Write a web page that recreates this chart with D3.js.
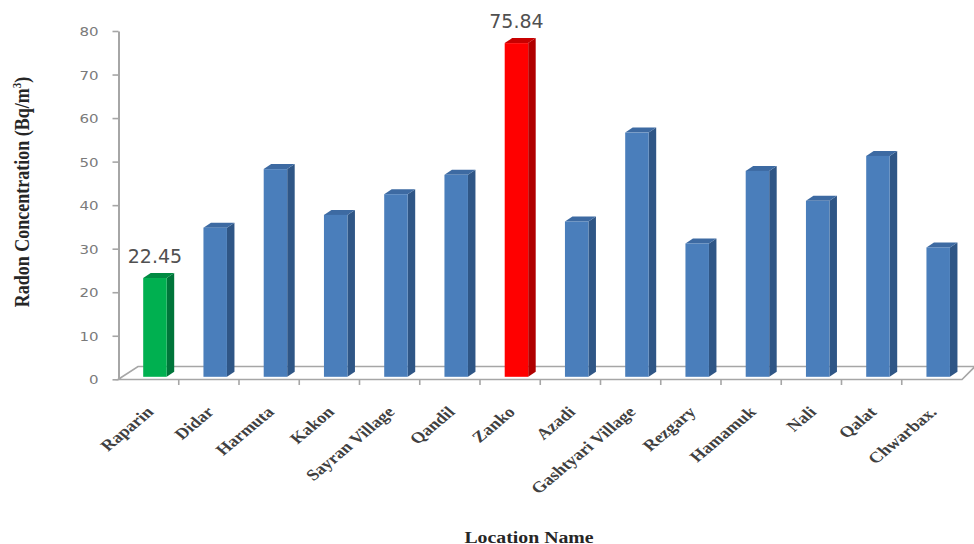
<!DOCTYPE html>
<html><head><meta charset="utf-8">
<script src="https://cdn.jsdelivr.net/npm/d3@7"></script>
<style>body{margin:0;background:#fff;}svg{display:block;}</style>
</head><body>
<svg id="c" width="974" height="544"></svg>
<script>
const categories = ["Raparin","Didar","Harmuta","Kakon","Sayran Village","Qandil","Zanko","Azadi","Gashtyari Village","Rezgary","Hamamuk","Nali","Qalat","Chwarbax."];
const values = [22.45,33.9,47.2,36.8,41.5,45.9,75.84,35.3,55.5,30.3,46.8,40.0,50.2,29.4];
const barColors = ["green","blue","blue","blue","blue","blue","red","blue","blue","blue","blue","blue","blue","blue"];
const valueLabels = ["22.45","","","","","","75.84","","","","","","",""];
const yTicks = [0,10,20,30,40,50,60,70,80];
const yTitle = "Radon Concentration (Bq/m";
const xTitle = "Location Name";

const palette = {
  blue:{front:"#4a7ebb",side:"#2f5686",top:"#3d6aa2"},
  green:{front:"#00b050",side:"#00753a",top:"#008a42"},
  red:{front:"#ff0000",side:"#b00000",top:"#c80000"}
};
const SX = 1.2; // horizontal stretch of the original picture
const svg = d3.select("#c");
const x = d3.scaleBand().domain(categories).range([118.5,962]);
const bw = x.bandwidth();
const yAxisScale = d3.scaleLinear().domain([0,80]).range([379.3,31]);
const yBar = d3.scaleLinear().domain([0,80]).range([376.8,24.8]);
const dx = 7.5, dy = -5;
const gray = "#a6a6a6";

// floor
const fl = [[118,379.5],[138,366.5],[975,366.5],[962,379.5]];
svg.append("path").attr("d","M"+fl.map(p=>p.join(",")).join("L")+"Z")
  .attr("fill","#fff").attr("stroke",gray).attr("stroke-width",1.6);

// y axis
const ya = svg.append("g").attr("transform","translate(118.5,0)")
  .call(d3.axisLeft(yAxisScale).tickValues(yTicks).tickSize(6).tickSizeOuter(0));
ya.select(".domain").attr("stroke",gray).attr("stroke-width",2);
ya.selectAll(".tick line").attr("stroke",gray).attr("stroke-width",1.6);
ya.selectAll(".tick text").attr("x",null).attr("dy",null)
  .attr("transform",`translate(-20,0) scale(${SX},1)`).attr("dy","0.36em")
  .attr("fill","#7a7a7a").style("font-family","DejaVu Sans, Verdana, sans-serif")
  .style("font-size","12.5px");

// category ticks
svg.append("g").selectAll("line").data(categories.slice(0,-1)).join("line")
  .attr("x1",d=>x(d)+bw).attr("x2",d=>x(d)+bw).attr("y1",379.5).attr("y2",385)
  .attr("stroke",gray).attr("stroke-width",1.6);

// bars
const data = categories.map((c,i)=>({c,v:values[i],col:palette[barColors[i]],lab:valueLabels[i]}));
const g = svg.append("g");
data.forEach(d=>{
  const x0 = x(d.c)+bw*0.41, w = bw*0.39;
  const yt = yBar(d.v), yb = yBar(0);
  const gg = g.append("g");
  gg.append("path").attr("d",`M${x0+w},${yt}L${x0+w+dx},${yt+dy}L${x0+w+dx},${yb+dy}L${x0+w},${yb}Z`).attr("fill",d.col.side);
  gg.append("path").attr("d",`M${x0},${yt}L${x0+dx},${yt+dy}L${x0+w+dx},${yt+dy}L${x0+w},${yt}Z`).attr("fill",d.col.top);
  gg.append("rect").attr("x",x0).attr("y",yt).attr("width",w).attr("height",yb-yt).attr("fill",d.col.front);
  if(d.lab){
    svg.append("text").attr("x",x0+w/2).attr("y",yt-15).attr("text-anchor","middle")
      .attr("fill","#505050").style("font-family","DejaVu Sans, Verdana, sans-serif").style("font-size","19px").text(d.lab);
  }
});

// category labels
svg.append("g").selectAll("text").data(categories).join("text")
  .attr("transform",d=>`translate(${x(d)+bw/2+6},${413}) scale(${SX},1) rotate(-45)`)
  .attr("text-anchor","end").attr("fill","#404040")
  .style("font-family","Liberation Serif, Times New Roman, serif").style("font-weight","bold").style("font-size","15.5px")
  .text(d=>d);

// y title
const yt = svg.append("text").attr("transform",`translate(29,192) scale(${SX},1) rotate(-90)`).attr("text-anchor","middle")
  .attr("fill","#262626").style("font-family","Liberation Serif, Times New Roman, serif").style("font-weight","bold").style("font-size","18px");
yt.append("tspan").text(yTitle);
yt.append("tspan").attr("dy","-7").style("font-size","11px").text("3");
yt.append("tspan").attr("dy","7").text(")");

// x title
svg.append("text").attr("transform",`translate(529,542.5) scale(${SX},1)`).attr("text-anchor","middle").attr("fill","#262626")
  .style("font-family","Liberation Serif, Times New Roman, serif").style("font-weight","bold").style("font-size","16.5px").text(xTitle);
</script>
</body></html>
